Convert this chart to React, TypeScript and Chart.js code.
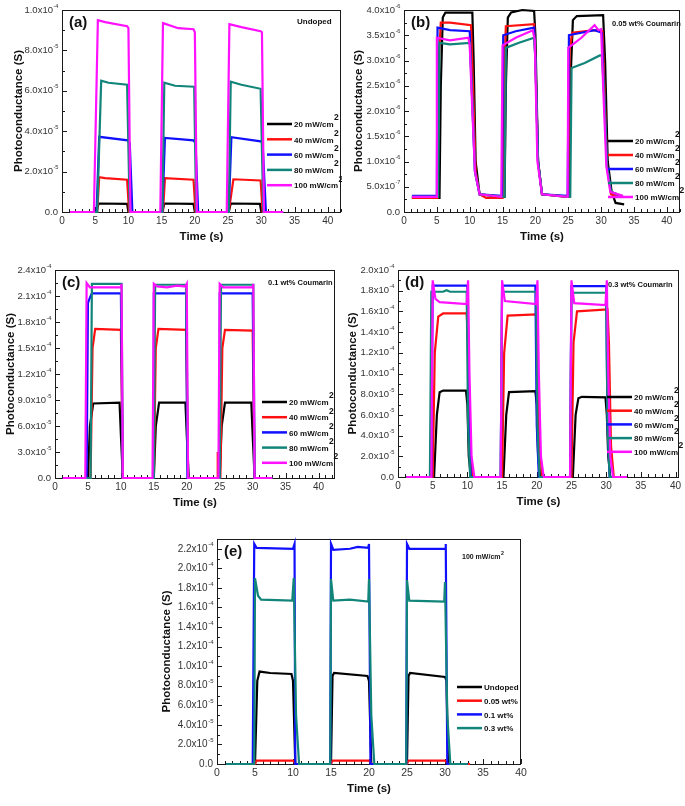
import React, { useEffect, useRef } from "react";
import { Chart, registerables } from "chart.js";
Chart.register(...registerables);

type Pt = [number, number];

// ---------- shared ----------
const X_TICKS = [0, 5, 10, 15, 20, 25, 30, 35, 40];
const LEGEND_POWER = ["20 mW/cm²", "40 mW/cm²", "60 mW/cm²", "80 mW/cm²", "100 mW/cm²"];
const LEGEND_DOPING = ["Undoped", "0.05 wt%", "0.1 wt%", "0.3 wt%"];
const C_BLACK = "#000000";
const C_RED = "#ff1010";
const C_BLUE = "#1010ff";
const C_TEAL = "#12857b";
const C_MAGENTA = "#ff10ff";

// ---------- (a) Undoped, values in 1e-5 S ----------
const A_YTICKS = [0, 2, 4, 6, 8, 10];
const A_20: Pt[] = [[1.2,0],[5.2,0],[5.5,0.42],[9.8,0.4],[10.0,0],[15.1,0],[15.4,0.42],[19.8,0.4],[20.0,0],[25.1,0],[25.4,0.42],[29.8,0.4],[30.0,0],[33,0]];
const A_40: Pt[] = [[1.2,0],[5.3,0],[5.6,1.72],[6.5,1.68],[9.8,1.6],[10.1,0],[15.2,0],[15.5,1.68],[19.8,1.6],[20.1,0],[25.1,0],[25.8,1.62],[29.9,1.56],[30.2,0],[33,0]];
const A_60: Pt[] = [[1.2,0],[5.2,0],[5.6,3.72],[9.9,3.55],[10.2,3.4],[10.6,0],[15.1,0],[15.5,3.67],[19.8,3.55],[20.1,3.4],[20.5,0],[25.1,0],[25.5,3.7],[29.9,3.5],[30.2,3.4],[30.7,0],[33,0]];
const A_80: Pt[] = [[1.2,0],[5.3,0],[5.9,6.5],[7,6.4],[9.8,6.3],[10.2,0],[15.1,0],[15.4,6.4],[17,6.25],[19.9,6.2],[20.2,0],[25.1,0],[25.4,6.45],[27,6.3],[29.9,6.1],[30.3,0],[33.3,0]];
const A_100: Pt[] = [[1.2,0],[4.8,0],[5.4,9.5],[6.5,9.4],[9.8,9.2],[10.0,9.1],[10.3,0],[14.8,0],[15.2,9.35],[17.5,9.1],[19.8,9.05],[20.0,8.9],[20.3,0],[24.8,0],[25.2,9.3],[27,9.15],[29.9,8.95],[30.1,8.9],[30.4,0],[33.3,0]];

// ---------- (b) 0.05 wt% Coumarin, values in 1e-6 S ----------
const B_YTICKS = [0, 0.5, 1, 1.5, 2, 2.5, 3, 3.5, 4];
const B_20: Pt[] = [[1.2,0.28],[5.4,0.28],[5.6,2.5],[5.9,3.85],[6.3,3.95],[10.4,3.95],[10.6,3.0],[10.9,1.0],[11.5,0.35],[14.8,0.3],[15.3,0.3],[15.5,2.5],[15.8,3.85],[16.3,3.95],[18,4.0],[19.8,3.98],[20.0,3.5],[20.4,1.0],[21,0.35],[24.8,0.3],[25.1,0.3],[25.4,2.8],[25.7,3.8],[26.3,3.88],[30.3,3.9],[30.6,3.0],[31.0,1.0],[31.6,0.4],[32.2,0.18],[33.5,0.15]];
const B_40: Pt[] = [[1.2,0.28],[5.1,0.28],[5.3,3.0],[5.6,3.75],[7,3.75],[10.2,3.7],[10.5,2.5],[10.9,0.8],[11.5,0.35],[12.5,0.28],[15.0,0.28],[15.3,3.0],[15.5,3.68],[19.8,3.72],[20.0,3.0],[20.4,1.0],[21,0.35],[25.0,0.3],[25.2,3.2],[25.6,3.55],[29,3.6],[30.2,3.58],[30.5,2.5],[30.9,0.9],[31.5,0.35],[33.3,0.3]];
const B_60: Pt[] = [[1.2,0.32],[5.0,0.32],[5.1,3.65],[7,3.6],[10.0,3.58],[10.3,2.5],[10.8,0.8],[11.5,0.35],[14.9,0.32],[15.1,3.5],[17,3.58],[19.8,3.65],[20.0,3.0],[20.4,1.0],[21,0.35],[24.9,0.32],[25.1,3.5],[27,3.55],[29,3.6],[30.1,3.55],[30.4,2.5],[30.9,0.9],[31.5,0.4],[33.3,0.3]];
const B_80: Pt[] = [[1.2,0.3],[5.2,0.3],[5.4,3.35],[7,3.32],[10.0,3.35],[10.3,2.5],[10.8,0.8],[11.5,0.35],[15.3,0.3],[15.5,3.25],[17.5,3.35],[19.8,3.45],[20.0,3.0],[20.4,1.0],[21,0.35],[25.3,0.3],[25.5,2.85],[27.5,2.95],[29.8,3.1],[30.1,3.1],[30.4,2.5],[30.9,0.9],[31.5,0.4],[33.3,0.3]];
const B_100: Pt[] = [[1.2,0.3],[4.9,0.3],[5.0,3.45],[7,3.4],[9.8,3.45],[10.0,3.3],[10.4,2.0],[10.8,0.8],[11.5,0.35],[14.8,0.3],[15.0,3.3],[17,3.45],[19.6,3.6],[19.9,3.4],[20.3,1.0],[21,0.35],[24.9,0.3],[25.0,3.25],[27,3.45],[29,3.7],[29.6,3.6],[30.0,3.62],[30.3,2.5],[30.8,0.9],[31.4,0.4],[33.3,0.32]];

// ---------- (c) 0.1 wt% Coumarin, values in 1e-5 S ----------
const C_YTICKS = [0, 3, 6, 9, 12, 15, 18, 21, 24];
const C_20: Pt[] = [[1.2,0],[5.0,0],[5.3,6],[5.8,8.6],[9.8,8.7],[10.0,5],[10.3,0],[15.0,0],[15.3,6],[15.8,8.7],[19.8,8.7],[20.0,5],[20.3,0],[25.0,0],[25.3,6],[25.8,8.7],[29.8,8.7],[30.0,5],[30.3,0],[33,0]];
const C_40: Pt[] = [[1.2,0],[5.4,0],[5.7,15],[6.1,17.2],[10.0,17.1],[10.3,0],[15.0,0],[15.3,15],[15.7,17.2],[19.9,17.1],[20.2,0],[24.6,0],[24.7,3],[24.8,0],[25.1,0],[25.4,15],[25.8,17.1],[30.0,17.0],[30.3,0],[33,0]];
const C_60: Pt[] = [[1.2,0],[4.8,0],[5.0,20.2],[5.3,20.8],[5.6,21.3],[10.0,21.3],[10.3,0],[14.9,0],[15.0,21.3],[19.9,21.3],[20.1,0],[24.9,0],[25.0,21.3],[30.0,21.3],[30.3,0],[33,0]];
const C_80: Pt[] = [[1.2,0],[5.4,0],[5.6,22.4],[10.1,22.4],[10.3,0],[15.0,0],[15.2,22.3],[19.9,22.3],[20.2,0],[25.0,0],[25.2,22.3],[30.1,22.3],[30.3,0],[33,0]];
const C_100: Pt[] = [[1.2,0],[4.6,0],[4.8,22.5],[5.3,22.0],[10.0,22.0],[10.1,22.4],[10.3,0],[14.8,0],[15.0,22.4],[15.5,22.1],[17,22.0],[18.5,22.2],[19.8,22.1],[20.0,22.4],[20.2,0],[24.8,0],[25.0,22.4],[25.5,22.0],[30.0,22.0],[30.1,22.4],[30.3,0],[33,0]];

// ---------- (d) 0.3 wt% Coumarin, values in 1e-5 S ----------
const D_YTICKS = [0, 2, 4, 6, 8, 10, 12, 14, 16, 18, 20];
const D_20: Pt[] = [[1.2,0],[5.2,0],[5.6,6.0],[6.0,8.2],[6.5,8.35],[9.8,8.35],[10.0,7.0],[10.2,2.0],[10.5,0],[15.2,0],[15.6,6.0],[16.0,8.2],[19.8,8.3],[20.0,7.0],[20.2,2.0],[20.5,0],[25.2,0],[25.6,6.0],[26.0,7.6],[26.5,7.75],[29.9,7.7],[30.1,6.0],[30.3,2.0],[30.6,0],[33,0]];
const D_40: Pt[] = [[1.2,0],[5.0,0],[5.3,12],[5.8,15.5],[6.5,15.8],[9.9,15.8],[10.1,13],[10.4,3],[10.8,0],[15.0,0],[15.3,12],[15.8,15.6],[19.9,15.7],[20.1,13],[20.4,3],[20.8,0],[25.0,0],[25.3,13],[25.8,16.0],[30.2,16.2],[30.4,13],[30.7,3],[31.1,0],[33,0]];
const D_60: Pt[] = [[1.2,0],[4.8,0],[5.0,18.5],[10.0,18.5],[10.2,5],[10.5,0],[14.8,0],[15.0,18.5],[19.8,18.5],[20.0,5],[20.3,0],[24.8,0],[25.0,18.45],[30.0,18.45],[30.2,5],[30.5,0],[33,0]];
const D_80: Pt[] = [[1.2,0],[4.6,0],[4.8,17.9],[6.5,17.9],[7.0,18.05],[7.5,17.9],[9.9,17.9],[10.1,5],[10.4,0],[14.8,0],[15.0,17.9],[19.9,17.9],[20.1,5],[20.4,0],[24.8,0],[25.0,17.8],[30.0,17.8],[30.2,5],[30.5,0],[33,0]];
const D_100: Pt[] = [[1.2,0],[4.8,0],[5.0,19.0],[5.4,17.2],[6.0,16.9],[9.9,16.7],[10.1,19.0],[10.3,10],[10.6,2],[11.0,0],[14.8,0],[15.0,19.0],[15.4,17.0],[19.9,16.7],[20.1,19.0],[20.3,10],[20.6,2],[21,0],[24.8,0],[25.0,19.0],[25.4,16.8],[29.9,16.6],[30.1,19.0],[30.3,10],[30.6,2],[31,0],[33,0]];

// ---------- (e) 100 mW/cm², values in 1e-5 S ----------
const E_YTICKS = [0, 2, 4, 6, 8, 10, 12, 14, 16, 18, 20, 22];
const E_UNDOPED: Pt[] = [[1.2,0],[5.0,0],[5.3,8.5],[5.6,9.45],[7,9.3],[9.8,9.2],[10.0,8.5],[10.3,0],[15.0,0],[15.2,9.0],[15.4,9.3],[19.8,9.0],[20.0,8.5],[20.3,0],[25.0,0],[25.2,9.0],[25.4,9.3],[30.0,8.9],[30.2,8.5],[30.4,0],[33,0]];
const E_005: Pt[] = [[1.2,0],[5.0,0],[5.2,0.35],[10.0,0.35],[10.4,0],[15.0,0],[15.2,0.35],[20.0,0.35],[20.4,0],[25.0,0],[25.2,0.35],[30.0,0.35],[30.4,0],[33.3,0]];
const E_01: Pt[] = [[1.2,0],[4.7,0],[4.9,22.5],[5.2,22.1],[10.0,22.0],[10.2,22.5],[10.3,0],[14.9,0],[15.0,22.5],[15.3,21.9],[17.5,22.0],[18.5,22.2],[19.9,22.1],[20.0,22.5],[20.2,0],[24.9,0],[25.0,22.5],[25.3,22.0],[30.0,22.0],[30.1,22.5],[30.3,0],[33,0]];
const E_03: Pt[] = [[1.2,0],[4.9,0],[5.0,19.0],[5.4,17.2],[5.8,16.8],[9.9,16.7],[10.1,19.0],[10.4,5],[10.8,0],[14.9,0],[15.0,18.9],[15.3,16.7],[17.5,16.8],[19.9,16.6],[20.0,18.9],[20.3,5],[20.7,0],[24.9,0],[25.0,18.8],[25.3,16.7],[29.9,16.6],[30.0,18.6],[30.3,5],[30.7,0],[33,0]];

interface Series { label: string; data: Pt[]; color: string; }
interface Panel {
  tag: string; note: string; unit: number; xMax: number; yMax: number; yTicks: number[];
  series: Series[];
  canvas: { left: number; top: number; width: number; height: number };
  area: { l: number; t: number; r: number; b: number };
  legend: { x: number; y: number; step: number };
  notePos: [number, number]; noteSize: number;
  tickFont: number; yTitleOff: number;
}

const POWER_COLORS = [C_BLACK, C_RED, C_BLUE, C_TEAL, C_MAGENTA];
const mk = (labels: string[], colors: string[], data: Pt[][]): Series[] =>
  data.map((d, i) => ({ label: labels[i], color: colors[i], data: d }));

const PANELS: Panel[] = [
  {
    tag: "(a)", note: "Undoped", unit: 1e-5, xMax: 42, yMax: 10, yTicks: A_YTICKS,
    series: mk(LEGEND_POWER, POWER_COLORS, [A_20, A_40, A_60, A_80, A_100]),
    canvas: { left: 0, top: 0, width: 342, height: 250 },
    area: { l: 62, t: 10, r: 341, b: 212 },
    legend: { x: 267, y: 124, step: 15.3 },
    notePos: [297, 22], noteSize: 8, tickFont: 9.5, yTitleOff: 43,
  },
  {
    tag: "(b)", note: "0.05 wt% Coumarin", unit: 1e-6, xMax: 42, yMax: 4, yTicks: B_YTICKS,
    series: mk(LEGEND_POWER, POWER_COLORS, [B_20, B_40, B_60, B_80, B_100]),
    canvas: { left: 342, top: 0, width: 343, height: 250 },
    area: { l: 404, t: 10, r: 680, b: 212 },
    legend: { x: 608, y: 141, step: 14 },
    notePos: [612, 24], noteSize: 7.5, tickFont: 9.5, yTitleOff: 45,
  },
  {
    tag: "(c)", note: "0.1 wt% Coumarin", unit: 1e-5, xMax: 42.5, yMax: 24, yTicks: C_YTICKS,
    series: mk(LEGEND_POWER, POWER_COLORS, [C_20, C_40, C_60, C_80, C_100]),
    canvas: { left: 0, top: 252, width: 342, height: 262 },
    area: { l: 55, t: 270, r: 335, b: 478 },
    legend: { x: 262, y: 402, step: 15.2 },
    notePos: [268, 283], noteSize: 7.5, tickFont: 9.5, yTitleOff: 44,
  },
  {
    tag: "(d)", note: "0.3 wt% Coumarin", unit: 1e-5, xMax: 40.5, yMax: 20, yTicks: D_YTICKS,
    series: mk(LEGEND_POWER, POWER_COLORS, [D_20, D_40, D_60, D_80, D_100]),
    canvas: { left: 342, top: 252, width: 343, height: 262 },
    area: { l: 398, t: 270, r: 679, b: 477 },
    legend: { x: 607, y: 397, step: 13.7 },
    notePos: [608, 285], noteSize: 7.5, tickFont: 9.5, yTitleOff: 45,
  },
  {
    tag: "(e)", note: "100 mW/cm²", unit: 1e-5, xMax: 40, yMax: 23, yTicks: E_YTICKS,
    series: mk(LEGEND_DOPING, [C_BLACK, C_RED, C_BLUE, C_TEAL], [E_UNDOPED, E_005, E_01, E_03]),
    canvas: { left: 150, top: 525, width: 380, height: 281 },
    area: { l: 217, t: 539, r: 521, b: 764 },
    legend: { x: 457, y: 687, step: 13.7 },
    notePos: [462, 557], noteSize: 7, tickFont: 10, yTitleOff: 50,
  },
];

const FONT = "Arial, 'Liberation Sans', Helvetica, sans-serif";

function sciParts(v: number): [string, string] {
  if (Math.abs(v) < 1e-15) return ["0.0", ""];
  const e = Math.floor(Math.log10(v) + 1e-9);
  const m = v / Math.pow(10, e);
  return [m.toFixed(1) + "x10", String(e)];
}

function drawParts(ctx: CanvasRenderingContext2D, main: string, sup: string, x: number, y: number,
  size: number, bold: boolean, supSize: number, supRise: number, align: "left" | "right") {
  const w = bold ? "bold " : "";
  ctx.font = `${w}${size}px ${FONT}`;
  const wm = ctx.measureText(main).width;
  ctx.font = `${w}${supSize}px ${FONT}`;
  const ws = sup ? ctx.measureText(sup).width : 0;
  const x0 = align === "right" ? x - wm - ws : x;
  ctx.textAlign = "left";
  ctx.textBaseline = "middle";
  ctx.font = `${w}${size}px ${FONT}`;
  ctx.fillText(main, x0, y);
  if (sup) {
    ctx.font = `${w}${supSize}px ${FONT}`;
    ctx.fillText(sup, x0 + wm + 0.5, y - supRise);
  }
}

function drawWithSup(ctx: CanvasRenderingContext2D, text: string, x: number, y: number,
  size: number, bold: boolean, supSize: number, supRise: number, align: "left" | "right") {
  const parts = text.split("²");
  const main = parts[0];
  const sup = parts.length > 1 ? "2" : "";
  drawParts(ctx, main, sup, x, y, size, bold, supSize, supRise, align);
}

function makeDecor(p: Panel) {
  return {
    id: "decor" + p.tag.replace(/[()]/g, ""),
    beforeDatasetsDraw(chart: any) {
      const ctx: CanvasRenderingContext2D = chart.ctx;
      const { left, top, right, bottom } = chart.chartArea;
      const xs = chart.scales.x;
      const ys = chart.scales.y;
      ctx.save();
      ctx.strokeStyle = "#1a1a1a";
      ctx.lineWidth = 1;
      ctx.strokeRect(left + 0.5, top + 0.5, right - left - 1, bottom - top);
      ctx.beginPath();
      for (let v = 0; v <= Math.floor(p.xMax); v += 1) {
        const px = Math.round(xs.getPixelForValue(v)) + 0.5;
        const len = v % 5 === 0 ? 5 : 3;
        ctx.moveTo(px, bottom);
        ctx.lineTo(px, bottom - len);
      }
      const yt = ys.ticks.map((t: any) => t.value);
      for (let i = 0; i < yt.length; i++) {
        const py = Math.round(ys.getPixelForValue(yt[i])) + 0.5;
        ctx.moveTo(left, py);
        ctx.lineTo(left + 5, py);
        if (i < yt.length - 1) {
          const pm = Math.round(ys.getPixelForValue((yt[i] + yt[i + 1]) / 2)) + 0.5;
          ctx.moveTo(left, pm);
          ctx.lineTo(left + 3, pm);
        }
      }
      ctx.stroke();
      ctx.restore();
    },
    afterDatasetsDraw(chart: any) {
      const ctx: CanvasRenderingContext2D = chart.ctx;
      const { left, top, right, bottom } = chart.chartArea;
      const xs = chart.scales.x;
      const ys = chart.scales.y;
      const ox = p.canvas.left, oy = p.canvas.top;
      ctx.save();
      ctx.fillStyle = "#333";
      xs.ticks.forEach((t: any) => {
        ctx.font = `${p.tickFont + 0.5}px ${FONT}`;
        ctx.textAlign = "center";
        ctx.textBaseline = "middle";
        ctx.fillText(String(t.value), xs.getPixelForValue(t.value), bottom + 9);
      });
      ys.ticks.forEach((t: any) => {
        const [m, e] = sciParts(t.value);
        drawParts(ctx, m, e, left - 4, ys.getPixelForValue(t.value), p.tickFont, false, p.tickFont * 0.6, 4, "right");
      });
      ctx.fillStyle = "#111";
      ctx.font = `bold 11.5px ${FONT}`;
      ctx.textAlign = "center";
      ctx.textBaseline = "middle";
      ctx.fillText("Time (s)", (left + right) / 2, bottom + 25);
      ctx.save();
      ctx.translate(left - p.yTitleOff, (top + bottom) / 2);
      ctx.rotate(-Math.PI / 2);
      ctx.fillText("Photoconductance (S)", 0, 0);
      ctx.restore();
      ctx.font = `bold 15px ${FONT}`;
      ctx.textAlign = "left";
      ctx.fillText(p.tag, left + 7, top + 13);
      drawWithSup(ctx, p.note, p.notePos[0] - ox, p.notePos[1] - oy, p.noteSize, true, p.noteSize * 0.75, 3, "left");
      chart.data.datasets.forEach((ds: any, i: number) => {
        const y = p.legend.y - oy + i * p.legend.step;
        const x = p.legend.x - ox;
        ctx.strokeStyle = ds.borderColor;
        ctx.lineWidth = 2.5;
        ctx.beginPath();
        ctx.moveTo(x, y);
        ctx.lineTo(x + 25, y);
        ctx.stroke();
        ctx.fillStyle = "#111";
        drawWithSup(ctx, ds.label, x + 27, y + 1, 8, true, 8.5, 7, "left");
      });
      ctx.restore();
    },
  };
}

function PanelChart({ p }: { p: Panel }) {
  const ref = useRef<HTMLCanvasElement>(null);
  useEffect(() => {
    const c = ref.current!;
    const yAxisW = p.area.l - p.canvas.left;
    const xAxisH = p.canvas.top + p.canvas.height - p.area.b;
    const padTop = p.area.t - p.canvas.top;
    const padRight = p.canvas.left + p.canvas.width - p.area.r;
    const chart = new Chart(c, {
      type: "line",
      data: {
        datasets: p.series.map((s, i) => ({
          label: s.label,
          data: s.data.map(([x, y]) => ({ x, y: y * p.unit })),
          borderColor: s.color,
          backgroundColor: s.color,
          borderWidth: 2.2,
          pointRadius: 0,
          tension: 0,
          fill: false,
          clip: 4,
          order: p.series.length - 1 - i,
        })),
      },
      options: {
        responsive: false,
        maintainAspectRatio: false,
        animation: false,
        events: [],
        layout: { padding: { top: padTop, right: padRight, left: 0, bottom: 0 } },
        plugins: { legend: { display: false }, tooltip: { enabled: false } },
        scales: {
          x: {
            type: "linear", min: 0, max: p.xMax,
            grid: { display: false }, border: { display: false }, ticks: { display: false },
            afterBuildTicks: (s: any) => { s.ticks = X_TICKS.map((v) => ({ value: v })); },
            afterFit: (s: any) => { s.height = xAxisH; },
          },
          y: {
            type: "linear", min: 0, max: p.yMax * p.unit,
            grid: { display: false }, border: { display: false }, ticks: { display: false },
            afterBuildTicks: (s: any) => { s.ticks = p.yTicks.map((v) => ({ value: v * p.unit })); },
            afterFit: (s: any) => { s.width = yAxisW; },
          },
        },
      } as any,
      plugins: [makeDecor(p)],
    });
    return () => chart.destroy();
  }, [p]);
  return (
    <canvas
      ref={ref}
      width={p.canvas.width}
      height={p.canvas.height}
      style={{ position: "absolute", left: p.canvas.left, top: p.canvas.top, width: p.canvas.width, height: p.canvas.height }}
    />
  );
}

export default function App() {
  return (
    <div style={{ position: "absolute", left: 0, top: 0, width: 685, height: 806, background: "#fff" }}>
      {PANELS.map((p) => <PanelChart key={p.tag} p={p} />)}
    </div>
  );
}
